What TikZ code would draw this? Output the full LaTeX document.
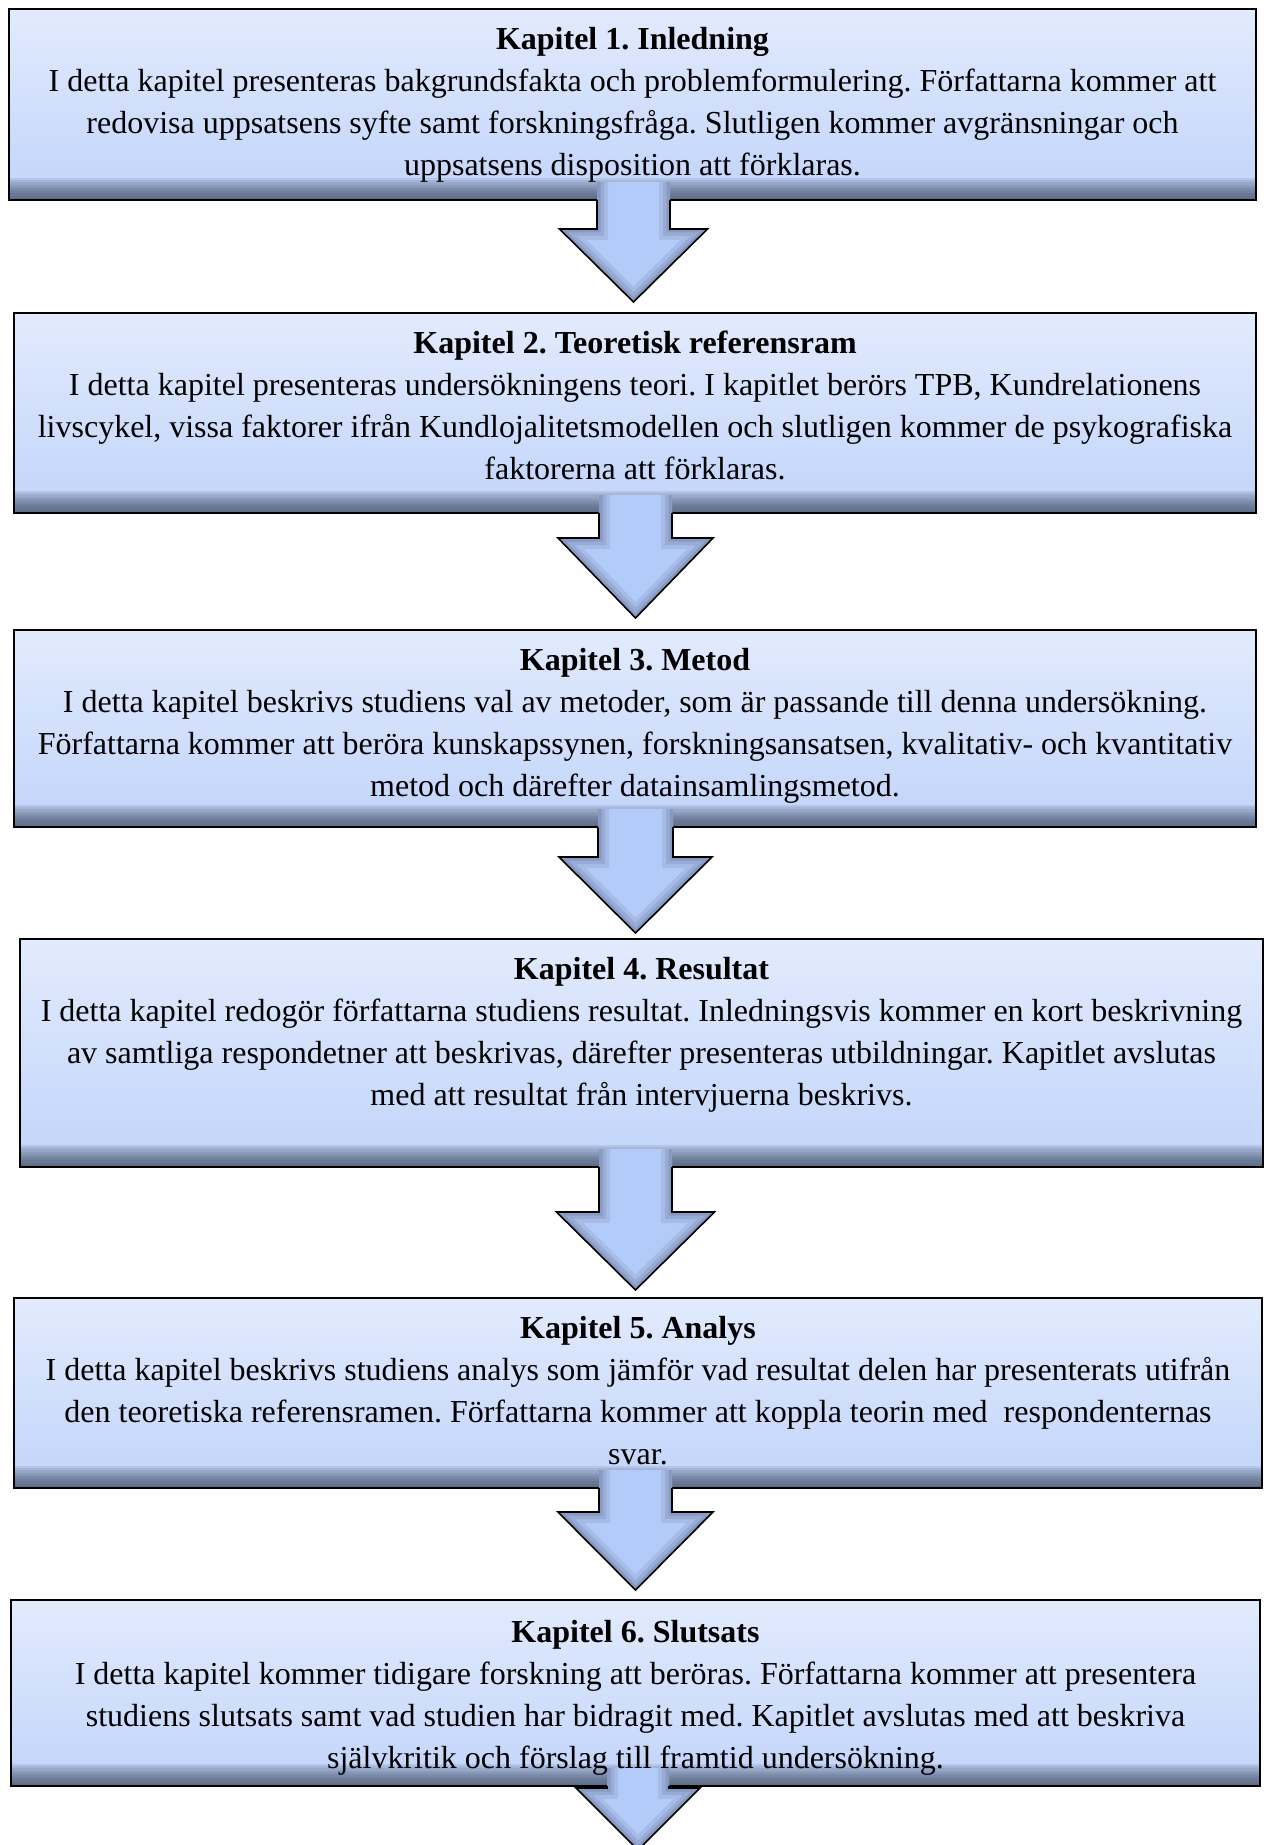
\documentclass[tikz,border=0pt]{standalone}
\usepackage{fontspec}
\setmainfont{Liberation Serif}
\usetikzlibrary{calc, positioning}
\frenchspacing

\definecolor{boxtop}{HTML}{E2EBFD}
\definecolor{boxlow}{HTML}{C1D4FA}
\definecolor{boxdark}{HTML}{3E4A63}
\definecolor{arrowfill}{HTML}{B3CBF8}
\definecolor{arrowedge}{HTML}{5C6B8C}

\tikzset{
  kapitel/.style={rectangle, draw=black, line width=1pt, inner sep=0pt, outer sep=0pt,
    top color=boxtop, bottom color=boxlow,
    path picture={
      \foreach \h in {1,...,10}
        \fill[boxdark, opacity=0.12] (path picture bounding box.south west)
          rectangle ([yshift=\h*1.1pt]path picture bounding box.south east);
    }},
  kaptext/.style={align=center, inner sep=0pt, font=\fontsize{16}{21}\selectfont},
  pil/.style={draw=black, line width=0.8pt, line join=miter},
}

\begin{document}
\begin{tikzpicture}[x=0.5pt, y=-0.5pt]

  \useasboundingbox (0, 0) rectangle (1267, 1845);

  % the six chapter boxes: number/left/top/right/bottom
  \foreach \n/\l/\t/\r/\b in {1/9/9/1256/200, 2/14/313/1256/513, 3/14/630/1256/827,
                              4/20/939/1263/1167, 5/14/1298/1262/1488, 6/11/1600/1260/1786} {
    \node[kapitel, minimum width={(\r-\l)*0.5pt}, minimum height={(\b-\t)*0.5pt}]
      (k\n) at ({(\l+\r)/2}, {(\t+\b)/2}) {};
  }

  % block arrows below each box
  \foreach \n/\cx/\sw/\hw/\ht/\tip in {1/633.5/36.5/74/229/302, 2/635.5/36.5/77.5/538/618,
                                       3/635.5/37.5/76.5/857/933, 4/635.5/36.5/79/1212/1290,
                                       5/635.5/36.5/77.5/1512/1590, 6/638/31/62/1788/1850} {
    \coordinate (a\n) at (k\n.south -| {\cx-\sw},0);
    \def\pilpath{(a\n) ++(0,-18) -- ({\cx-\sw},\ht) -- ({\cx-\hw},\ht) -- (\cx,\tip)
                 -- ({\cx+\hw},\ht) -- ({\cx+\sw},\ht) -- ({\cx+\sw},0 |- a\n) -- ++(0,-18)}
    \fill[arrowfill] \pilpath;
    \begin{scope}
      \clip \pilpath;
      \foreach \w/\o in {11/0.15, 7/0.2, 3.5/0.25}
        \draw[arrowedge, line width=\w pt, opacity=\o, line join=miter] \pilpath;
    \end{scope}
    \draw[pil] (a\n) -- ({\cx-\sw},\ht) -- ({\cx-\hw},\ht) -- (\cx,\tip)
      -- ({\cx+\hw},\ht) -- ({\cx+\sw},\ht) -- ({\cx+\sw},0 |- a\n);
  }

  \node[kaptext, below=9pt of k1.north] (t1) {\textbf{Kapitel 1. Inledning}\\
    I detta kapitel presenteras bakgrundsfakta och problemformulering. Författarna kommer att\\
    redovisa uppsatsens syfte samt forskningsfråga. Slutligen kommer avgränsningar och\\
    uppsatsens disposition att förklaras.};

  \node[kaptext, below=9pt of k2.north] (t2) {\textbf{Kapitel 2. Teoretisk referensram}\\
    I detta kapitel presenteras undersökningens teori. I kapitlet berörs TPB, Kundrelationens\\
    livscykel, vissa faktorer ifrån Kundlojalitetsmodellen och slutligen kommer de psykografiska\\
    faktorerna att förklaras.};

  \node[kaptext, below=9pt of k3.north] (t3) {\textbf{Kapitel 3. Metod}\\
    I detta kapitel beskrivs studiens val av metoder, som är passande till denna undersökning.\\
    Författarna kommer att beröra kunskapssynen, forskningsansatsen, kvalitativ- och kvantitativ\\
    metod och därefter datainsamlingsmetod.};

  \node[kaptext, below=9pt of k4.north] (t4) {\textbf{Kapitel 4. Resultat}\\
    I detta kapitel redogör författarna studiens resultat. Inledningsvis kommer en kort beskrivning\\
    av samtliga respondetner att beskrivas, därefter presenteras utbildningar. Kapitlet avslutas\\
    med att resultat från intervjuerna beskrivs.};

  \node[kaptext, below=9pt of k5.north] (t5) {\textbf{Kapitel 5. Analys}\\
    I detta kapitel beskrivs studiens analys som jämför vad resultat delen har presenterats utifrån\\
    den teoretiska referensramen. Författarna kommer att koppla teorin med\ \ respondenternas\\
    svar.};

  \node[kaptext, below=10pt of k6.north] (t6) {\textbf{Kapitel 6. Slutsats}\\
    I detta kapitel kommer tidigare forskning att beröras. Författarna kommer att presentera\\
    studiens slutsats samt vad studien har bidragit med. Kapitlet avslutas med att beskriva\\
    självkritik och förslag till framtid undersökning.};

\end{tikzpicture}
\end{document}
